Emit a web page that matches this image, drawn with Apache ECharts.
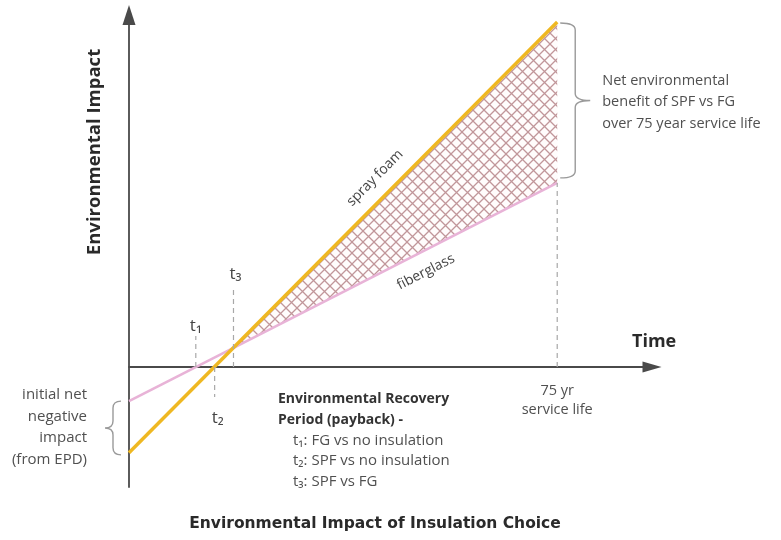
<!DOCTYPE html>
<html>
<head>
<meta charset="utf-8">
<script src="https://cdn.jsdelivr.net/npm/echarts/dist/echarts.min.js"></script>
<style>html,body{margin:0;padding:0;background:#fff}#c{width:781px;height:540px}</style>
</head>
<body>
<div id="c"></div>
<script>
// ---- data (arbitrary "impact" units vs years) ----
const years = [0, 75];
const sprayFoam = [-24.4, 98];
const fiberglass = [-9.7, 52.3];
const paybackTimes = [11.7, 15.0, 18.3];           // t1, t2, t3
const paybackNames = ['t\u2081', 't\u2082', 't\u2083'];
const serviceLife = 75;
const recoveryNotes = ['t\u2081: FG vs no insulation', 't\u2082: SPF vs no insulation', 't\u2083: SPF vs FG'];

const FONT = '"Open Sans", "DejaVu Sans", sans-serif';
const TXT = '#505050';

// hatch pattern
function makeHatch() {
  const s = 11, cv = document.createElement('canvas');
  cv.width = s; cv.height = s;
  const g = cv.getContext('2d');
  g.fillStyle = 'rgba(255,250,250,0.6)';
  g.fillRect(0, 0, s, s);
  g.strokeStyle = 'rgba(178,125,130,0.8)';
  g.lineWidth = 1.3;
  g.beginPath();
  g.moveTo(0, 0); g.lineTo(s, s);
  g.moveTo(s, 0); g.lineTo(0, s);
  g.stroke();
  return cv;
}

// geometry helpers derived from the two lines
function lineAt(arr, x) { return arr[0] + (arr[1] - arr[0]) * (x - years[0]) / (years[1] - years[0]); }
const sfSlope = (sprayFoam[1] - sprayFoam[0]) / (years[1] - years[0]);
const fgSlope = (fiberglass[1] - fiberglass[0]) / (years[1] - years[0]);
const xCross = years[0] + (fiberglass[0] - sprayFoam[0]) / (sfSlope - fgSlope);

function brace(x0, yTop, yBot, w, dir) {
  const xm = x0 + dir * w * 0.5, xt = x0 + dir * w, ym = (yTop + yBot) / 2;
  const r = Math.min(7, (yBot - yTop) / 4);
  return 'M' + x0 + ',' + yTop + ' Q' + xm + ',' + yTop + ' ' + xm + ',' + (yTop + r) +
    ' L' + xm + ',' + (ym - r) + ' Q' + xm + ',' + ym + ' ' + xt + ',' + ym +
    ' Q' + xm + ',' + ym + ' ' + xm + ',' + (ym + r) +
    ' L' + xm + ',' + (yBot - r) + ' Q' + xm + ',' + yBot + ' ' + x0 + ',' + yBot;
}

const chart = echarts.init(document.getElementById('c'), null, { renderer: 'canvas' });
const hatch = makeHatch();

function renderHatch(params, api) {
  const pts = [
    api.coord([xCross, lineAt(sprayFoam, xCross)]),
    api.coord([serviceLife, lineAt(sprayFoam, serviceLife)]),
    api.coord([serviceLife, lineAt(fiberglass, serviceLife)])
  ];
  return { type: 'polygon', shape: { points: pts }, style: { fill: { image: hatch, repeat: 'repeat' }, stroke: null } };
}

function txt(x, y, text, opt) {
  return Object.assign({ type: 'text', x: x, y: y,
    style: Object.assign({ text: text, fill: TXT, font: '14.5px ' + FONT, textAlign: 'left', textVerticalAlign: 'middle' }, opt && opt.style) },
    opt && opt.el);
}

function renderAnno(params, api) {
  const c = (x, y) => api.coord([x, y]);
  const ch = [];
  const dash = { stroke: '#a8a8a8', lineWidth: 1.2, lineDash: [5, 4] };
  const dl = (a, b) => ch.push({ type: 'line', shape: { x1: a[0], y1: a[1], x2: b[0], y2: b[1] }, style: dash });
  const [t1, t2, t3] = paybackTimes;
  dl(c(t1, 0), c(t1, 8.8));
  dl(c(t2, 0), c(t2, -8.5));
  dl(c(t3, 0), c(t3, 22.4));
  dl(c(serviceLife, 0), c(serviceLife, lineAt(fiberglass, serviceLife)));

  let p;
  const tf = { textAlign: 'center', font: '17px ' + FONT, fill: '#444' };
  p = c(t1, 11.5); ch.push(txt(p[0], p[1], paybackNames[0], { style: tf }));
  p = c(t2, -14.5); ch.push(txt(p[0] + 3, p[1], paybackNames[1], { style: tf }));
  p = c(t3, 26.5); ch.push(txt(p[0] + 2, p[1], paybackNames[2], { style: tf }));

  // line labels
  const a0 = c(years[0], sprayFoam[0]), a1 = c(years[1], sprayFoam[1]);
  const angS = Math.atan2(a0[1] - a1[1], a1[0] - a0[0]);
  p = c(43.1, 53.7);
  ch.push(txt(p[0], p[1], 'spray foam', { style: { textAlign: 'center', font: '14px ' + FONT, fill: '#444' }, el: { rotation: angS } }));
  const b0 = c(years[0], fiberglass[0]), b1 = c(years[1], fiberglass[1]);
  const angF = Math.atan2(b0[1] - b1[1], b1[0] - b0[0]);
  p = c(52.0, 27.0);
  ch.push(txt(p[0], p[1], 'fiberglass', { style: { textAlign: 'center', font: '14px ' + FONT, fill: '#444' }, el: { rotation: angF } }));

  // 75 yr labels
  p = c(serviceLife, -6.8);
  ch.push(txt(p[0], p[1], '75 yr', { style: { textAlign: 'center' } }));
  p = c(serviceLife, -12.2);
  ch.push(txt(p[0], p[1], 'service life', { style: { textAlign: 'center' } }));

  // right brace
  const rt = c(serviceLife, lineAt(sprayFoam, serviceLife));
  const rb = c(serviceLife, lineAt(fiberglass, serviceLife));
  ch.push({ type: 'path', shape: { pathData: brace(rt[0] + 3, rt[1] + 1, rb[1] - 5, 30, 1) }, style: { stroke: '#9a9a9a', lineWidth: 1.4, fill: null } });
  ['Net environmental', 'benefit of SPF vs FG', 'over 75 year service life'].forEach((s, i) => {
    ch.push(txt(rt[0] + 45, (rt[1] + rb[1]) / 2 - 22 + i * 21.5, s));
  });

  // left brace
  const lt = c(years[0], fiberglass[0]);
  const lb = c(years[0], sprayFoam[0]);
  ch.push({ type: 'path', shape: { pathData: brace(lt[0] - 8, lt[1], lb[1] + 2, 16, -1) }, style: { stroke: '#9a9a9a', lineWidth: 1.4, fill: null } });
  ['initial net', 'negative', 'impact', '(from EPD)'].forEach((s, i) => {
    ch.push(txt(lt[0] - 42, lt[1] - 6 + i * 21.5, s, { style: { textAlign: 'right', font: '15px ' + FONT } }));
  });

  // recovery period note
  p = c(t3 + 7.8, -9.1);
  ch.push(txt(p[0], p[1], 'Environmental Recovery', { style: { font: 'bold 14px ' + FONT, fill: '#333' } }));
  ch.push(txt(p[0], p[1] + 21, 'Period (payback) -', { style: { font: 'bold 14px ' + FONT, fill: '#333' } }));
  recoveryNotes.forEach((s, i) => {
    ch.push(txt(p[0] + 15, p[1] + 41.5 + i * 20.5, s, { style: { font: '15px ' + FONT } }));
  });
  return { type: 'group', children: ch };
}

chart.setOption({
  animation: false,
  backgroundColor: '#fff',
  grid: { left: 129, right: 129, top: 15, bottom: 53, containLabel: false },
  xAxis: {
    type: 'value', min: 0, max: 91.6,
    axisLine: { onZero: true, symbol: ['none', 'triangle'], symbolSize: [11, 19], lineStyle: { color: '#4a4a4a', width: 1.8 } },
    axisTick: { show: false }, axisLabel: { show: false }, splitLine: { show: false }
  },
  yAxis: {
    type: 'value', min: -34.1, max: 100,
    axisLine: { show: true, onZero: false, symbol: ['none', 'triangle'], symbolSize: [13, 20], lineStyle: { color: '#4a4a4a', width: 1.8 } },
    axisTick: { show: false }, axisLabel: { show: false }, splitLine: { show: false }
  },
  graphic: [
    { type: 'text', x: 95, y: 152, rotation: Math.PI / 2,
      style: { text: 'Environmental Impact', font: 'bold 18.5px ' + FONT, fill: '#2a2a2a', textAlign: 'center', textVerticalAlign: 'middle' } },
    { type: 'text', x: 632, y: 342,
      style: { text: 'Time', font: 'bold 18px ' + FONT, fill: '#2a2a2a', textAlign: 'left', textVerticalAlign: 'middle' } },
    { type: 'text', x: 375, y: 524,
      style: { text: 'Environmental Impact of Insulation Choice', font: 'bold 15.5px "DejaVu Sans", sans-serif', fill: '#2a2a2a', textAlign: 'center', textVerticalAlign: 'middle' } }
  ],
  series: [
    { type: 'custom', name: 'hatch', renderItem: renderHatch, data: [[0]], z: 1, silent: true },
    { type: 'line', name: 'fiberglass', data: years.map((x, i) => [x, fiberglass[i]]), symbol: 'none',
      lineStyle: { color: '#e8b3d7', width: 2.6 }, z: 2, silent: true },
    { type: 'line', name: 'spray foam', data: years.map((x, i) => [x, sprayFoam[i]]), symbol: 'none',
      lineStyle: { color: '#efb822', width: 3.5 }, z: 3, silent: true },
    { type: 'custom', name: 'annotations', renderItem: renderAnno, data: [[0]], z: 4, silent: true }
  ]
});
</script>
</body>
</html>
